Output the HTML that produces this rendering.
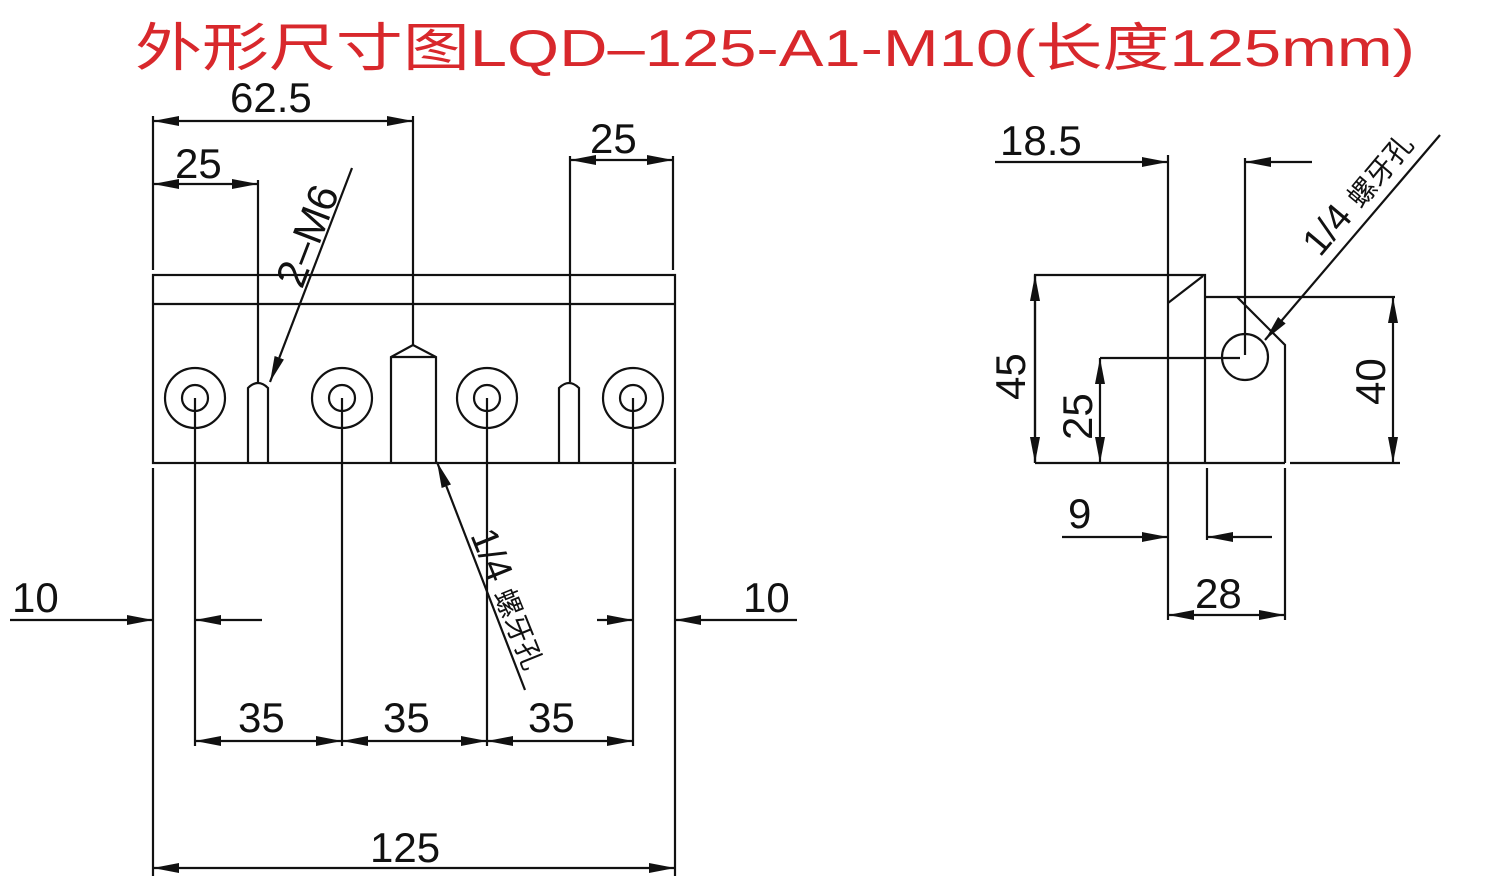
<!DOCTYPE html>
<html><head><meta charset="utf-8"><style>
body{margin:0;background:#fff;}
svg{display:block}
text{font-family:"Liberation Sans","Noto Sans CJK SC",sans-serif;}
</style></head><body>
<svg width="1500" height="890" viewBox="0 0 1500 890" xmlns="http://www.w3.org/2000/svg">
<defs>
<marker id="a" viewBox="0 0 26 10" refX="26" refY="5" markerWidth="26" markerHeight="10" markerUnits="userSpaceOnUse" orient="auto-start-reverse"><path d="M0,0 L26,5 L0,10 Z" fill="#111"/></marker>
</defs>
<text x="135" y="66" font-size="52" fill="#d8282c" textLength="1280" lengthAdjust="spacingAndGlyphs">外形尺寸图LQD–125-A1-M10(长度125mm)</text>
<g stroke="#111" stroke-width="2.2" fill="none">
<rect x="153" y="275" width="522" height="188"/>
<line x1="153" y1="304" x2="675" y2="304"/>
<circle cx="195" cy="398" r="30"/><circle cx="195" cy="398" r="13"/>
<circle cx="342" cy="398" r="30"/><circle cx="342" cy="398" r="13"/>
<circle cx="487" cy="398" r="30"/><circle cx="487" cy="398" r="13"/>
<circle cx="633" cy="398" r="30"/><circle cx="633" cy="398" r="13"/>
<path d="M248,463 V388 Q258,378 268,388 V463"/>
<path d="M559,463 V388 Q569,378 579,388 V463"/>
<path d="M391,463 V357 L413,345 L436,357 V463"/>
<line x1="391" y1="357" x2="436" y2="357"/>
<line x1="153" y1="116" x2="153" y2="270"/>
<line x1="413" y1="116" x2="413" y2="345"/>
<line x1="258" y1="180" x2="258" y2="382"/>
<line x1="570" y1="156" x2="570" y2="382"/>
<line x1="673" y1="156" x2="673" y2="270"/>
<line x1="153" y1="468" x2="153" y2="876"/>
<line x1="675" y1="468" x2="675" y2="876"/>
<line x1="195" y1="398" x2="195" y2="746"/>
<line x1="342" y1="398" x2="342" y2="746"/>
<line x1="487" y1="398" x2="487" y2="746"/>
<line x1="633" y1="398" x2="633" y2="746"/>
<line x1="153" y1="121" x2="413" y2="121" marker-start="url(#a)" marker-end="url(#a)"/>
<line x1="153" y1="184" x2="258" y2="184" marker-start="url(#a)" marker-end="url(#a)"/>
<line x1="570" y1="160" x2="673" y2="160" marker-start="url(#a)" marker-end="url(#a)"/>
<line x1="10" y1="620" x2="153" y2="620" marker-end="url(#a)"/>
<line x1="262" y1="620" x2="195" y2="620" marker-end="url(#a)"/>
<line x1="797" y1="620" x2="675" y2="620" marker-end="url(#a)"/>
<line x1="597" y1="620" x2="633" y2="620" marker-end="url(#a)"/>
<line x1="195" y1="741" x2="342" y2="741" marker-start="url(#a)" marker-end="url(#a)"/>
<line x1="342" y1="741" x2="487" y2="741" marker-start="url(#a)" marker-end="url(#a)"/>
<line x1="487" y1="741" x2="633" y2="741" marker-start="url(#a)" marker-end="url(#a)"/>
<line x1="153" y1="868" x2="675" y2="868" marker-start="url(#a)" marker-end="url(#a)"/>
<line x1="352" y1="168" x2="270" y2="382" marker-end="url(#a)"/>
<line x1="525" y1="690" x2="437" y2="462" marker-end="url(#a)"/>
<path d="M1035,463 V275 H1205 V463"/>
<path d="M1205,297 H1237 L1285,345 V463"/>
<line x1="1237" y1="297" x2="1395" y2="297"/>
<line x1="1035" y1="463" x2="1285" y2="463"/>
<line x1="1290" y1="463" x2="1400" y2="463"/>
<line x1="1168" y1="155" x2="1168" y2="620"/>
<line x1="1168" y1="303" x2="1203" y2="276"/>
<circle cx="1245" cy="357" r="23"/>
<line x1="1245" y1="158" x2="1245" y2="355"/>
<line x1="1100" y1="358" x2="1240" y2="358"/>
<line x1="1207" y1="468" x2="1207" y2="540"/>
<line x1="1285" y1="468" x2="1285" y2="620"/>
<line x1="995" y1="162" x2="1168" y2="162" marker-end="url(#a)"/>
<line x1="1312" y1="162" x2="1245" y2="162" marker-end="url(#a)"/>
<line x1="1035" y1="275" x2="1035" y2="463" marker-start="url(#a)" marker-end="url(#a)"/>
<line x1="1100" y1="358" x2="1100" y2="463" marker-start="url(#a)" marker-end="url(#a)"/>
<line x1="1393" y1="297" x2="1393" y2="463" marker-start="url(#a)" marker-end="url(#a)"/>
<line x1="1062" y1="537" x2="1168" y2="537" marker-end="url(#a)"/>
<line x1="1272" y1="537" x2="1207" y2="537" marker-end="url(#a)"/>
<line x1="1168" y1="615" x2="1285" y2="615" marker-start="url(#a)" marker-end="url(#a)"/>
<line x1="1440" y1="135" x2="1265" y2="340" marker-end="url(#a)"/>
</g>
<g fill="#111" font-size="42">
<text x="230" y="112">62.5</text>
<text x="175" y="178">25</text>
<text x="590" y="153">25</text>
<text x="12" y="612">10</text>
<text x="743" y="612">10</text>
<text x="238" y="732">35</text>
<text x="383" y="732">35</text>
<text x="528" y="732">35</text>
<text x="370" y="862">125</text>
<text transform="translate(302,290) rotate(-69)">2–M6</text>
<text transform="translate(470,535) rotate(68)" font-size="38">1/4 <tspan font-size="28">螺牙孔</tspan></text>
<text x="1000" y="155">18.5</text>
<text transform="translate(1025,400) rotate(-90)">45</text>
<text transform="translate(1092,440) rotate(-90)">25</text>
<text transform="translate(1385,405) rotate(-90)">40</text>
<text x="1068" y="528">9</text>
<text x="1195" y="608">28</text>
<text transform="translate(1320,258) rotate(-50)" font-size="38">1/4 <tspan font-size="28">螺牙孔</tspan></text>
</g>
</svg>
</body></html>
